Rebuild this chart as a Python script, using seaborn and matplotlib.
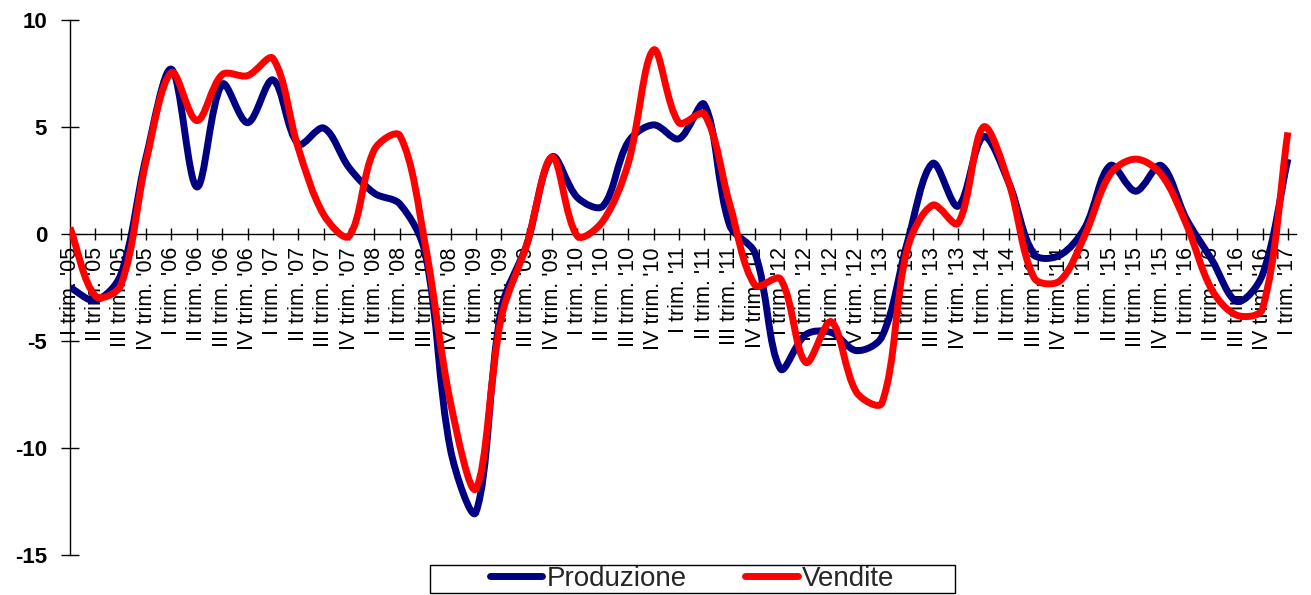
import numpy as np
import pandas as pd
import matplotlib
matplotlib.use("Agg")
import matplotlib.pyplot as plt
import seaborn as sns
from matplotlib.path import Path
from matplotlib.patches import PathPatch, Rectangle
from matplotlib.lines import Line2D

# ---------------- data ----------------
quarters = ["I", "II", "III", "IV"]
years = ["05", "06", "07", "08", "09", "10", "11", "12", "13", "14", "15", "16", "17"]
tick_labels = [f"{q} trim. '{y}" for y in years for q in quarters][:49]

produzione = [-2.5, -3.1, -1.9, 3.6, 7.7, 2.2, 7.0, 5.2, 7.2, 4.2,
              4.95, 3.1, 1.9, 1.4, -0.9, -10.1, -13.0, -3.5, -0.5, 3.6,
              1.7, 1.3, 4.3, 5.1, 4.45, 6.05, 0.4, -0.9, -6.3, -4.7,
              -4.6, -5.45, -4.8, -0.4, 3.3, 1.3, 4.55, 2.4, -0.95, -1.0,
              0.3, 3.2, 2.0, 3.2, 0.7, -1.2, -3.15, -1.9, 3.5]

vendite = [0.3, -2.9, -2.4, 3.4, 7.55, 5.3, 7.45, 7.4, 8.2, 4.0,
           0.9, -0.1, 3.95, 4.6, -0.5, -7.9, -11.9, -3.9, -0.5, 3.6,
           -0.1, 0.6, 3.3, 8.6, 5.2, 5.6, 1.4, -2.4, -2.1, -6.0,
           -4.1, -7.4, -7.9, -0.7, 1.35, 0.5, 5.0, 2.4, -2.05, -2.2,
           -0.05, 2.8, 3.5, 2.8, 0.45, -2.6, -3.8, -3.5, 4.75]

series_names = ["Produzione", "Vendite"]
colors = {"Produzione": "#000080", "Vendite": "#FF0000"}

df = pd.DataFrame({
    "t": list(range(len(produzione))) * 2,
    "valore": produzione + vendite,
    "serie": ["Produzione"] * len(produzione) + ["Vendite"] * len(vendite),
})

# ---------------- style ----------------
sns.set_theme(style="white")
plt.rcParams["font.family"] = ["Liberation Sans", "DejaVu Sans"]
plt.rcParams["axes.unicode_minus"] = False

W, H = 1311, 595
fig = plt.figure(figsize=(W / 100, H / 100), dpi=100)
ax = fig.add_axes([70 / W, 1 - 555 / H, (1296 - 70) / W, (555 - 20) / H])

LW = 5.0
sns.lineplot(data=df, x="t", y="valore", hue="serie", hue_order=series_names,
             palette=colors, linewidth=LW, ax=ax, legend=False, sort=False)

# ---------------- axes ----------------
ax.spines["bottom"].set_position(("data", 0))
ax.spines["top"].set_visible(False)
ax.spines["right"].set_visible(False)
for s in ("bottom", "left"):
    ax.spines[s].set_color("black")
    ax.spines[s].set_linewidth(1.0)
    ax.spines[s].set_zorder(2)

ax.set_xlim(0, 48.32)
ax.set_ylim(-15, 10)
ax.set_yticks([10, 5, 0, -5, -10, -15])
ax.set_xticks(range(len(tick_labels)))
ax.set_xticklabels(tick_labels)
ax.set_xlabel("")
ax.set_ylabel("")

ax.tick_params(axis="x", bottom=True, direction="inout", length=9, width=1,
               color="black", pad=5, labelrotation=90, labelsize=15.5,
               labelcolor="black")
ax.tick_params(axis="y", left=True, direction="inout", length=13, width=1,
               color="black", pad=10, labelsize=16, labelcolor="black")
for t in ax.get_xticklabels():
    t.set_verticalalignment("top")
    t.set_horizontalalignment("center")
for t in ax.get_yticklabels():
    t.set_fontweight("bold")
ax.grid(False)


# ---------------- smoothed rendering of the seaborn lines ----------------
def smooth_path(xy, trans):
    """Bezier path through the points (spreadsheet-style smoothed line).
    Control arms are weighted by on-screen segment lengths to limit overshoot."""
    n = len(xy)
    pix = trans.transform(xy)
    inv = trans.inverted()

    def dist(a, b):
        return float(np.hypot(*(pix[a] - pix[b])))

    verts = [tuple(xy[0])]
    codes = [Path.MOVETO]
    for i in range(n - 1):
        i0, i1, i2, i3 = max(i - 1, 0), i, i + 1, min(i + 2, n - 1)
        d01, d12, d23 = dist(i0, i1), dist(i1, i2), dist(i2, i3)
        w1 = d12 / (d01 + d12) if (d01 + d12) > 0 else 0.5
        w2 = d12 / (d12 + d23) if (d12 + d23) > 0 else 0.5
        c1 = pix[i1] + (pix[i2] - pix[i0]) * w1 / 3.0
        c2 = pix[i2] - (pix[i3] - pix[i1]) * w2 / 3.0
        c1d, c2d = inv.transform([c1, c2])
        verts += [tuple(c1d), tuple(c2d), tuple(xy[i2])]
        codes += [Path.CURVE4] * 3
    return Path(verts, codes)


fig.canvas.draw()
for k, line in enumerate(list(ax.lines)):
    xy = np.asarray(line.get_xydata(), dtype=float)
    patch = PathPatch(smooth_path(xy, ax.transData), facecolor="none",
                      edgecolor=line.get_color(), lw=LW, capstyle="butt",
                      joinstyle="round", zorder=3 + k)
    ax.add_patch(patch)
    line.set_visible(False)

# ---------------- legend ----------------
fig.patches.append(Rectangle((430 / W, 1 - 593 / H), 525 / W, 28 / H,
                             transform=fig.transFigure, facecolor="white",
                             edgecolor="black", lw=1.0))
handles = [Line2D([], [], color=colors[n], lw=LW) for n in series_names]
fig.legend(handles=handles, labels=series_names, loc="center",
           bbox_to_anchor=(692 / W, 1 - 579 / H), ncol=2, frameon=False,
           fontsize=20, handlelength=1.9, handletextpad=0.15, columnspacing=2.1,
           borderpad=0.1)

fig.savefig("out.png", dpi=100)
